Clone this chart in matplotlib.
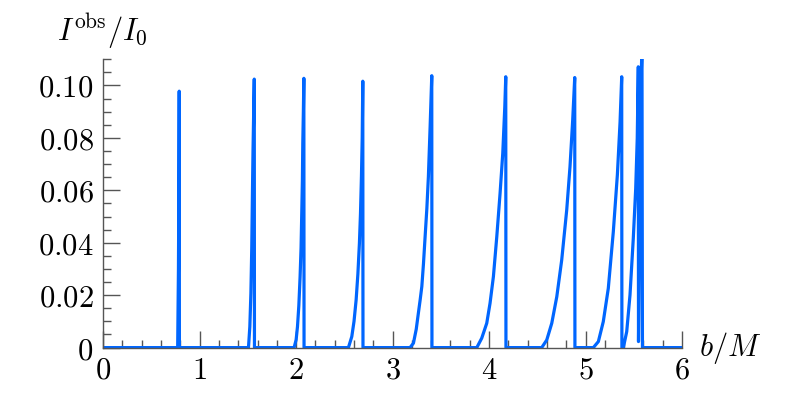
import matplotlib
matplotlib.use("Agg")
import matplotlib.pyplot as plt
from matplotlib.ticker import MultipleLocator, FuncFormatter

plt.rcParams['mathtext.fontset'] = 'cm'

b = [0.0,
     0.772, 0.780, 0.785, 0.788, 0.790,
     1.506, 1.520, 1.531, 1.540, 1.547, 1.553, 1.560, 1.566, 1.568,
     1.979, 2.000, 2.014, 2.028, 2.041, 2.051, 2.059, 2.065, 2.069, 2.075, 2.080, 2.082,
     2.542, 2.577, 2.600, 2.622, 2.640, 2.656, 2.667, 2.677, 2.685, 2.691, 2.693,
     3.181, 3.216, 3.245, 3.267, 3.285, 3.303, 3.320, 3.337, 3.355, 3.371, 3.389, 3.406, 3.408,
     3.873, 3.924, 3.976, 4.010, 4.045, 4.080, 4.114, 4.142, 4.163, 4.173, 4.175,
     4.546, 4.598, 4.650, 4.702, 4.753, 4.805, 4.839, 4.867, 4.888, 4.890,
     5.081, 5.133, 5.184, 5.236, 5.288, 5.330, 5.358, 5.375, 5.377,
     5.392, 5.427, 5.461, 5.495, 5.520, 5.536, 5.547, 5.549,
     5.556, 5.566, 5.575, 5.585, 5.590,
     6.0]
intensity = [0.0,
             0.0, 0.030, 0.065, 0.0978, 0.0,
             0.0, 0.008, 0.0207, 0.038, 0.0588, 0.075, 0.090, 0.1024, 0.0,
             0.0, 0.003, 0.008, 0.016, 0.027, 0.038, 0.0525, 0.064, 0.0779, 0.090, 0.1027, 0.0,
             0.0, 0.0042, 0.010, 0.0182, 0.028, 0.0398, 0.051, 0.0652, 0.080, 0.1016, 0.0,
             0.0, 0.0017, 0.007, 0.0131, 0.018, 0.0233, 0.032, 0.0423, 0.053, 0.0652, 0.0842, 0.1037, 0.0,
             0.0, 0.0036, 0.0093, 0.0169, 0.0271, 0.0423, 0.0588, 0.0741, 0.0918, 0.1033, 0.0,
             0.0, 0.0029, 0.0093, 0.0194, 0.0334, 0.0525, 0.0690, 0.0868, 0.1030, 0.0,
             0.0, 0.0023, 0.0099, 0.0226, 0.0442, 0.0659, 0.0861, 0.1033, 0.0,
             0.0, 0.0061, 0.0201, 0.0416, 0.0606, 0.0798, 0.1071, 0.0023,
             0.030, 0.070, 0.100, 0.115, 0.0,
             0.0]

xticks = [0, 1, 2, 3, 4, 5, 6]
yticks = [0, 0.02, 0.04, 0.06, 0.08, 0.10]

fig = plt.figure(figsize=(8, 4), dpi=100)
ax = fig.add_axes([0.129, 0.131, 0.7235, 0.721])

ax.plot(b, intensity, color='#0066ff', linewidth=2.3)

ax.set_xlim(0, 6)
ax.set_ylim(0, 0.11)

for s in ['top', 'right']:
    ax.spines[s].set_visible(False)
for s in ['left', 'bottom']:
    ax.spines[s].set_color('#555555')
    ax.spines[s].set_linewidth(1.0)

ax.set_xticks(xticks)
ax.set_yticks(yticks)
ax.xaxis.set_minor_locator(MultipleLocator(0.2))
ax.yaxis.set_minor_locator(MultipleLocator(0.005))
ax.xaxis.set_major_formatter(FuncFormatter(lambda v, p: f"${v:g}$"))
ax.yaxis.set_major_formatter(FuncFormatter(lambda v, p: "$0$" if v == 0 else f"${v:.2f}$"))

ax.tick_params(which='both', direction='in', color='#555555', width=1.0, labelsize=22)
ax.tick_params(which='major', length=12)
ax.tick_params(which='minor', length=5.5)
ax.tick_params(axis='x', pad=6)
ax.tick_params(axis='y', pad=7)

fig.text(0.071, 0.922, r"$I^{\mathrm{obs}}/I_0$", fontsize=22, va='center', ha='left')
fig.text(0.874, 0.131, r"$b/M$", fontsize=22, va='center', ha='left')

fig.savefig("out.png", dpi=100)
